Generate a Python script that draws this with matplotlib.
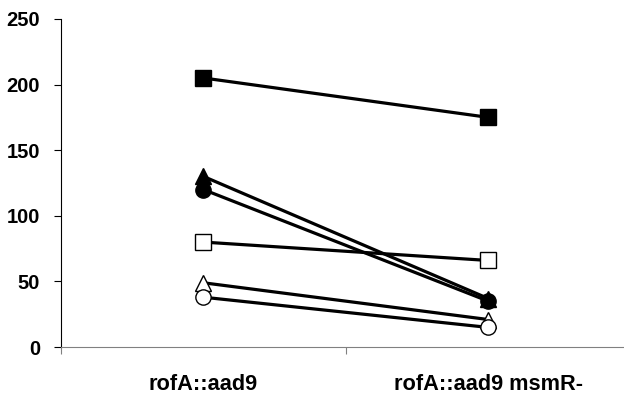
import matplotlib
matplotlib.use("Agg")
import matplotlib.pyplot as plt

plt.rcParams['font.family'] = ['Liberation Sans', 'DejaVu Sans']

categories = ['rofA::aad9', 'rofA::aad9 msmR-']
filled_square = [205, 175]
filled_triangle = [130, 37]
filled_circle = [120, 35]
open_square = [80, 66]
open_triangle = [49, 21]
open_circle = [38, 15]

xpos = [0.5, 1.5]

fig = plt.figure(figsize=(6.24, 3.94), dpi=100)
ax = fig.add_axes([0.0978, 0.119, 0.913, 0.833])

series = [
    (filled_square, 's', 'black'),
    (open_square, 's', 'white'),
    (filled_triangle, '^', 'black'),
    (filled_circle, 'o', 'black'),
    (open_triangle, '^', 'white'),
    (open_circle, 'o', 'white'),
]
for vals, mk, fc in series:
    ax.plot(xpos, vals, color='black', lw=2.3, marker=mk, ms=11,
            markerfacecolor=fc, markeredgecolor='black', markeredgewidth=1.0,
            clip_on=False)

ax.set_xlim(0, 2)
ax.set_ylim(0, 250)
ax.set_yticks(range(0, 251, 50))
ax.set_xticks([0, 1, 2])
ax.set_xticklabels([])
ax.set_xticks(xpos, minor=True)
ax.set_xticklabels(categories, minor=True)
ax.tick_params(axis='x', which='minor', length=0, pad=19, labelsize=15.7)
ax.tick_params(axis='x', which='major', length=5, direction='out', color='#808080')
ax.tick_params(axis='y', length=5, direction='out', labelsize=14.5, pad=10)
for lab in ax.get_yticklabels() + ax.get_xticklabels(minor=True):
    lab.set_fontweight('bold')

ax.spines['top'].set_visible(False)
ax.spines['right'].set_visible(False)
ax.spines['bottom'].set_color('#808080')

fig.savefig('out.png', dpi=100)
